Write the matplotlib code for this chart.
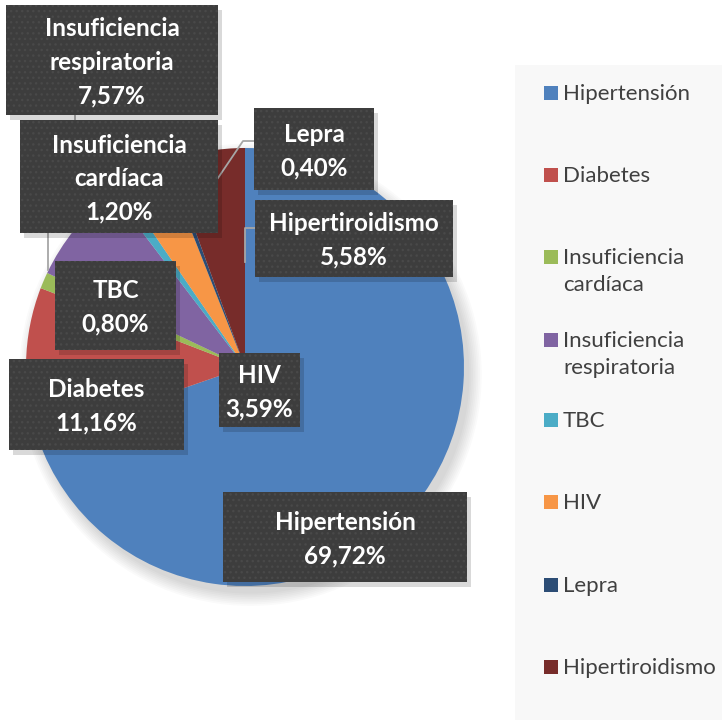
import matplotlib
matplotlib.use('Agg')
import matplotlib.pyplot as plt
from matplotlib.patches import Rectangle, Circle
from matplotlib.lines import Line2D

categories = ['Hipertensión', 'Diabetes', 'Insuficiencia cardíaca', 'Insuficiencia respiratoria',
              'TBC', 'HIV', 'Lepra', 'Hipertiroidismo']
values = [69.72, 11.16, 1.20, 7.57, 0.80, 3.59, 0.40, 5.58]
pct_labels = ['69,72%', '11,16%', '1,20%', '7,57%', '0,80%', '3,59%', '0,40%', '5,58%']
legend_names = ['Hipertensión', 'Diabetes', 'Insuficiencia\ncardíaca', 'Insuficiencia\nrespiratoria',
                'TBC', 'HIV', 'Lepra', 'Hipertiroidismo']
colors = ['#4F81BD', '#C0504D', '#9BBB59', '#8064A2', '#4BACC6', '#F79646', '#2C4D75', '#772C2A']

# layout (pixel boxes of data labels: x0, y0, x1, y1 in image coords)
label_boxes = [(223, 492, 467, 582), (9, 359, 184, 450), (20, 120, 218, 233), (6, 5, 218, 115),
               (55, 261, 176, 350), (219, 353, 300, 427), (254, 108, 374, 190), (255, 200, 453, 277)]
leaders = [[(75, 115), (75, 120)], [(48, 233), (48, 270)],
           [(254, 141), (243, 141), (218, 178)], [(255, 228), (245, 228), (245, 262)]]
legend_y = [93, 175, 257, 340, 420, 502, 585, 667]

plt.rcParams['font.family'] = ['Lato', 'DejaVu Sans']
plt.rcParams['hatch.linewidth'] = 1.0

W, H = 722, 720
fig = plt.figure(figsize=(W / 100, H / 100), dpi=100)
fig.patch.set_facecolor('white')

def fx(x):
    return x / W

def fy(y):
    return 1 - y / H

cx, cy, r = 245, 367, 219
ax = fig.add_axes([fx(cx - r), fy(cy + r), 2 * r / W, 2 * r / H])

wedges, _ = ax.pie(values, colors=colors, startangle=90, counterclock=False, radius=1,
                   wedgeprops=dict(linewidth=0))
for w in wedges:
    w.set_zorder(2)
ax.set_xlim(-1, 1)
ax.set_ylim(-1, 1)
ax.set_aspect('equal')
ax.axis('off')

# soft shadow
for i in range(8):
    ax.add_patch(Circle((0.025, -0.035), 1.0 + 0.008 * i, color='black', alpha=0.018, zorder=0,
                        lw=0, clip_on=False))

# leader lines
for pts in leaders:
    xs = [fx(p[0]) for p in pts]
    ys = [fy(p[1]) for p in pts]
    fig.add_artist(Line2D(xs, ys, color='#a6a6a6', lw=1.3, transform=fig.transFigure, zorder=3))

# data label boxes
for (x0, y0, x1, y1), name, pct in zip(label_boxes, categories, pct_labels):
    txt = name.replace('Insuficiencia ', 'Insuficiencia\n') + '\n' + pct
    fig.add_artist(Rectangle((fx(x0 + 4), fy(y1 + 5)), (x1 - x0) / W, (y1 - y0) / H,
                             transform=fig.transFigure, facecolor='black', alpha=0.15, lw=0, zorder=4))
    fig.add_artist(Rectangle((fx(x0), fy(y1)), (x1 - x0) / W, (y1 - y0) / H,
                             transform=fig.transFigure, facecolor='#3d3d3d', edgecolor='#494949',
                             hatch='...', lw=0, zorder=5))
    fig.text(fx((x0 + x1) / 2), fy((y0 + y1) / 2 + 2), txt, ha='center', va='center', color='white',
             fontsize=17.5, fontweight='bold', linespacing=1.55, zorder=6)

# legend
fig.add_artist(Rectangle((fx(515), 0), 1 - fx(515), fy(65), transform=fig.transFigure,
                         facecolor='#f8f8f8', lw=0, zorder=1))
for y, name, col in zip(legend_y, legend_names, colors):
    fig.add_artist(Rectangle((fx(544), fy(y + 7)), 14 / W, 14 / H, transform=fig.transFigure,
                             facecolor=col, lw=0, zorder=2))
    fig.text(fx(563), fy(y - 9), name, ha='left', va='top', color='#404040', fontsize=16,
             linespacing=1.45, zorder=2)

fig.savefig('out.png', dpi=100)
